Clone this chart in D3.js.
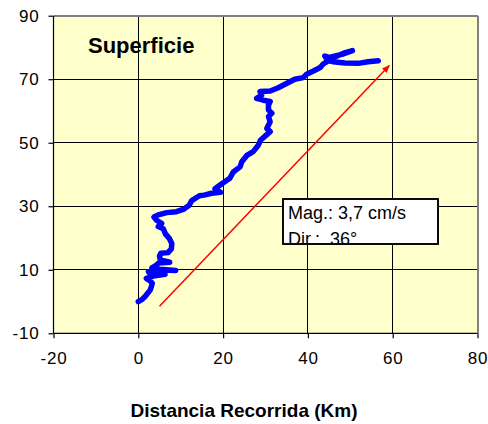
<!DOCTYPE html>
<html>
<head>
<meta charset="utf-8">
<script src="https://cdn.jsdelivr.net/npm/d3@7"></script>
<style>
  html, body { margin: 0; padding: 0; background: #fff; }
  svg { display: block; }
  text { font-family: "Liberation Sans", Arial, sans-serif; fill: #000; }
</style>
</head>
<body>
<svg id="chart" width="488" height="424"></svg>
<script>
// ---- Data (km) ----
const trackX = [0,0.8,1.6,2.2,2.8,3.1,3.3,2.7,1.9,3.5,6.3,3.0,2.4,5.5,8.8,5.0,3.2,4.2,4.8,7.4,5.2,5.0,5.3,7.0,7.8,7.9,7.3,6.4,5.9,4.7,5.5,4.3,3.7,4.7,6.7,9.0,10.6,12.0,12.6,14.4,15.5,17.3,19.4,18.1,19.7,21.6,22.4,24.0,24.4,25.6,27.1,28.3,28.8,29.9,31.1,30.3,31.1,30.7,31.5,30.7,30.7,31.1,29.5,27.9,29.1,28.7,31.1,33.0,34.6,36.9,38.9,39.7,41.3,42.9,43.6,44.8,44.0,45.2,46.9,48.8,50.5,48.0,45.5,44.5,46.0,48.7,51.9,54.2,56.6];
const trackY = [0,0.6,1.6,2.6,3.6,4.8,5.8,6.6,7.3,8.0,8.6,8.4,9.4,9.9,9.8,10.2,10.6,11.4,12.1,12.4,13.1,14.3,15.2,15.4,16.6,18.3,19.9,21.3,22.9,23.6,24.6,25.6,26.6,27.3,28.0,28.3,29.0,30.3,31.8,33.3,33.5,34.1,34.4,35.5,37.1,38.8,40.8,42.4,44.0,46.0,47.2,49.2,50.8,52.1,53.5,54.5,56.6,58.2,59.3,60.3,61.9,63.0,63.4,64.0,65.0,66.1,66.3,67.3,68.4,70.0,70.5,71.6,72.6,73.7,74.8,75.8,77.3,76.8,77.3,78.4,79.0,77.8,77.0,76.0,75.5,75.1,75.0,75.5,75.8];
const arrowX = [5, 59.2];
const arrowY = [-1.5, 74.3];
const xTicks = [-20, 0, 20, 40, 60, 80];
const yTicks = [-10, 10, 30, 50, 70, 90];
const titleText = "Superficie";
const xAxisTitle = "Distancia Recorrida (Km)";
const infoLines = ["Mag.: 3,7 cm/s", "Dir.:", "36°"];

// ---- Layout ----
const svg = d3.select("#chart");
const x = d3.scaleLinear().domain([-20, 80]).range([53.5, 477.5]);
const y = d3.scaleLinear().domain([-10, 90]).range([333.3, 15.7]);

// plot background
svg.append("rect")
  .attr("x", x(-20)).attr("y", y(90))
  .attr("width", x(80) - x(-20)).attr("height", y(-10) - y(90))
  .attr("fill", "#FFFFCC");

// grid
const g = svg.append("g").attr("shape-rendering", "crispEdges");
g.selectAll("line.h").data([10, 30, 50, 70]).join("line")
  .attr("x1", x(-20)).attr("x2", x(80))
  .attr("y1", d => y(d)).attr("y2", d => y(d))
  .attr("stroke", "#000").attr("stroke-width", 1);
g.selectAll("line.v").data([0, 20, 40, 60]).join("line")
  .attr("y1", y(90)).attr("y2", y(-10))
  .attr("x1", d => x(d)).attr("x2", d => x(d))
  .attr("stroke", "#000").attr("stroke-width", 1);
// top & right border
g.append("line").attr("x1", x(-20)).attr("x2", x(80)).attr("y1", y(90)).attr("y2", y(90))
  .attr("stroke", "#808080").attr("stroke-width", 2);
g.append("line").attr("x1", x(80)).attr("x2", x(80)).attr("y1", y(90)).attr("y2", y(-10))
  .attr("stroke", "#808080").attr("stroke-width", 2);

// axes
const fmt = d => String(d);
const xAxis = d3.axisBottom(x).tickValues(xTicks).tickSize(5).tickPadding(14).tickFormat(fmt);
const yAxis = d3.axisLeft(y).tickValues(yTicks).tickSize(5).tickPadding(9).tickFormat(fmt);
const gx = svg.append("g").attr("transform", `translate(0,${y(-10)})`).call(xAxis);
const gy = svg.append("g").attr("transform", `translate(${x(-20)},0)`).call(yAxis);
[gx, gy].forEach(a => {
  a.select(".domain").attr("stroke", "#000").attr("stroke-width", 1.2);
  a.selectAll(".tick line").attr("stroke", "#000").attr("stroke-width", 1.2);
  a.selectAll(".tick text")
    .attr("font-family", "Liberation Sans, Arial, sans-serif")
    .attr("font-size", 17).attr("fill", "#000")
    .style("letter-spacing", "0.8px");
});
gx.selectAll(".tick text").attr("dy", "0.71em");
gx.select(".domain").attr("d", `M${x(-20)},0H${x(80)}`);
gy.select(".domain").attr("d", `M0,${y(-10)}V${y(90)}`);

// track
const pts = trackX.map((v, i) => [v, trackY[i]]);
svg.append("path")
  .datum(pts)
  .attr("d", d3.line().x(d => x(d[0])).y(d => y(d[1])).curve(d3.curveLinear))
  .attr("fill", "none").attr("stroke", "#0000FF").attr("stroke-width", 5.5)
  .attr("stroke-linejoin", "round").attr("stroke-linecap", "round");

// arrow
const defs = svg.append("defs");
defs.append("marker").attr("id", "ah")
  .attr("viewBox", "0 0 10 10").attr("refX", 9).attr("refY", 5)
  .attr("markerWidth", 8).attr("markerHeight", 8).attr("markerUnits", "userSpaceOnUse")
  .attr("orient", "auto")
  .append("path").attr("d", "M0,1 L10,5 L0,9 Z").attr("fill", "#FF0000");
svg.append("line")
  .attr("x1", x(arrowX[0])).attr("y1", y(arrowY[0]))
  .attr("x2", x(arrowX[1])).attr("y2", y(arrowY[1]))
  .attr("stroke", "#FF0000").attr("stroke-width", 1.5)
  .attr("marker-end", "url(#ah)");

// info box
const bx = 283, by = 199, bw = 155, bh = 45;
defs.append("clipPath").attr("id", "boxclip")
  .append("rect").attr("x", bx).attr("y", by).attr("width", bw).attr("height", bh - 1);
svg.append("rect").attr("x", bx).attr("y", by).attr("width", bw).attr("height", bh)
  .attr("fill", "#fff").attr("stroke", "#000").attr("stroke-width", 1.6);
const tb = svg.append("g").attr("clip-path", "url(#boxclip)");
tb.append("text").attr("x", 288).attr("y", 218.5).attr("font-size", 18).text(infoLines[0]);
tb.append("text").attr("x", 288).attr("y", 245).attr("font-size", 18).text(infoLines[1]);
tb.append("text").attr("x", 330).attr("y", 245).attr("font-size", 18).text(infoLines[2]);
svg.append("rect").attr("x", bx).attr("y", by).attr("width", bw).attr("height", bh)
  .attr("fill", "none").attr("stroke", "#000").attr("stroke-width", 1.6);

// titles
svg.append("text").attr("x", 88).attr("y", 53).attr("font-size", 22).attr("font-weight", "bold")
  .text(titleText);
svg.append("text").attr("x", 244).attr("y", 416.5).attr("text-anchor", "middle")
  .attr("font-size", 19).attr("font-weight", "bold").text(xAxisTitle);
</script>
</body>
</html>
